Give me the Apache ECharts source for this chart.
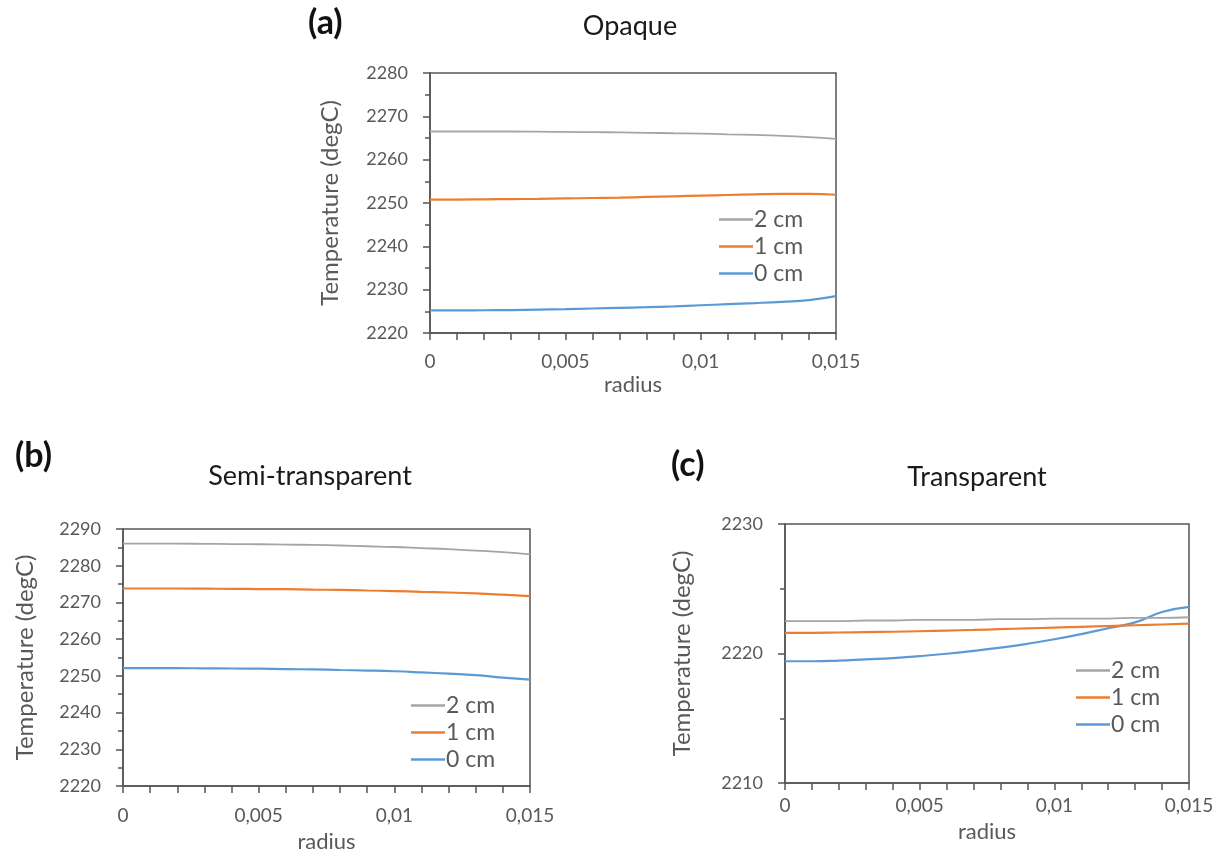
<!DOCTYPE html>
<html>
<head>
<meta charset="utf-8">
<script src="https://cdn.jsdelivr.net/npm/echarts@6/dist/echarts.min.js"></script>
<style>
html,body{margin:0;padding:0;background:#fff;}
#chart{width:1225px;height:854px;}
</style>
</head>
<body>
<div id="chart"></div>
<script>
// radius (x) values
var radius = [0,0.001,0.002,0.003,0.004,0.005,0.006,0.007,0.008,0.009,0.010,0.011,0.012,0.013,0.014,0.015];
var seriesNames = ['2 cm','1 cm','0 cm'];
var panelTitles = ['Opaque','Semi-transparent','Transparent'];
var panelLabels = ['(a)','(b)','(c)'];

// (a) Opaque
var opaque2 = [2266.5,2266.5,2266.5,2266.5,2266.45,2266.4,2266.35,2266.3,2266.2,2266.1,2266.0,2265.85,2265.7,2265.5,2265.2,2264.8];
var opaque1 = [2250.8,2250.8,2250.85,2250.9,2250.95,2251.05,2251.15,2251.25,2251.4,2251.55,2251.7,2251.85,2252.0,2252.1,2252.1,2251.9];
var opaque0 = [2225.2,2225.2,2225.25,2225.3,2225.4,2225.5,2225.65,2225.8,2225.95,2226.15,2226.4,2226.65,2226.9,2227.2,2227.6,2228.5];

// (b) Semi-transparent
var semi2 = [2286.0,2286.0,2286.0,2285.95,2285.9,2285.85,2285.75,2285.65,2285.5,2285.3,2285.1,2284.8,2284.5,2284.1,2283.7,2283.1];
var semi1 = [2273.8,2273.8,2273.8,2273.75,2273.7,2273.65,2273.6,2273.5,2273.4,2273.25,2273.1,2272.9,2272.7,2272.45,2272.1,2271.7];
var semi0 = [2252.1,2252.1,2252.1,2252.05,2252.0,2251.95,2251.85,2251.75,2251.6,2251.45,2251.25,2250.95,2250.6,2250.2,2249.5,2249.0];

// (c) Transparent
var trans2 = [2222.5,2222.5,2222.5,2222.55,2222.55,2222.6,2222.6,2222.6,2222.65,2222.65,2222.7,2222.7,2222.7,2222.75,2222.75,2222.8];
var trans1 = [2221.6,2221.6,2221.62,2221.65,2221.68,2221.72,2221.77,2221.82,2221.88,2221.94,2222.0,2222.06,2222.12,2222.18,2222.24,2222.3];
var trans0 = [2219.4,2219.4,2219.45,2219.55,2219.65,2219.8,2219.98,2220.2,2220.45,2220.75,2221.1,2221.5,2221.95,2222.4,2223.2,2223.6];

// y axis ranges
var yMin = [2220, 2220, 2210];
var yMax = [2280, 2290, 2230];
var yInterval = [10, 10, 10];

var panelData = [[opaque2,opaque1,opaque0],[semi2,semi1,semi0],[trans2,trans1,trans0]];
var colors = ['#a5a5a5','#ed7d31','#5b9bd5'];
var widths = [1.8, 2.2, 2.2];

var FONT = 'Lato';
var grids = [
  {left:430, top:73, width:406, height:260},
  {left:123, top:529, width:407, height:257},
  {left:785, top:524, width:404, height:259}
];
var yNameGap = [88, 86, 91];
var xNameGap = [41, 45, 38];
var xLabelMargin = [19, 20, 13];
var legendPos = [
  {left:714, top:203},
  {left:406, top:689},
  {left:1071, top:654}
];
var titlePos = [
  {x:625, y:8}, {x:305, y:458}, {x:972, y:459}
];
var labelPos = [
  {x:303, y:1}, {x:10, y:434}, {x:666, y:443}
];

function fmtX(v){
  if (Math.abs(v) < 1e-12) return '0';
  return String(+v.toFixed(3)).replace('.', ',');
}
function fmtY(v){ return String(Math.round(v)); }

var option = {
  backgroundColor:'#ffffff',
  animation:false,
  title:[],
  legend:[],
  grid:[],
  xAxis:[],
  yAxis:[],
  series:[]
};

for (var p=0;p<3;p++){
  option.title.push({
    text: panelTitles[p], left: titlePos[p].x, top: titlePos[p].y,
    textAlign:'center',
    textStyle:{fontFamily:FONT, fontSize:27, fontWeight:'normal', color:'#1a1a1a'}
  });
  option.title.push({
    text: panelLabels[p], left: labelPos[p].x, top: labelPos[p].y,
    textStyle:{fontFamily:FONT, fontSize:34, fontWeight:'bold', color:'#111'}
  });
  option.grid.push({
    left:grids[p].left, top:grids[p].top, width:grids[p].width, height:grids[p].height,
    show:true, borderColor:'#555', borderWidth:1.5, backgroundColor:'transparent',
    containLabel:false
  });
  option.xAxis.push({
    type:'value', gridIndex:p, min:0, max:0.015, interval:0.005,
    name:'radius', nameLocation:'middle', nameGap:xNameGap[p],
    nameTextStyle:{fontFamily:FONT, fontSize:22, color:'#595959'},
    axisLine:{show:true, onZero:false, lineStyle:{color:'#555', width:1.5}},
    axisTick:{show:true, inside:false, length:7, lineStyle:{color:'#555', width:1.5}},
    minorTick:{show:true, splitNumber:5, length:7, lineStyle:{color:'#555', width:1.5}},
    splitLine:{show:false},
    axisLabel:{fontFamily:FONT, fontSize:19, color:'#595959', margin:xLabelMargin[p], formatter:fmtX,
      showMinLabel:true, showMaxLabel:true}
  });
  option.yAxis.push({
    type:'value', gridIndex:p, min:yMin[p], max:yMax[p], interval:yInterval[p],
    name:'Temperature (degC)', nameLocation:'middle', nameGap:yNameGap[p], nameRotate:90,
    nameTextStyle:{fontFamily:FONT, fontSize:24, color:'#595959'},
    axisLine:{show:true, onZero:false, lineStyle:{color:'#555', width:1.5}},
    axisTick:{show:true, inside:false, length:7, lineStyle:{color:'#555', width:1.5}},
    minorTick:{show:true, splitNumber:2, length:5, lineStyle:{color:'#555', width:1.5}},
    splitLine:{show:false},
    axisLabel:{fontFamily:FONT, fontSize:18, color:'#595959', margin:22, formatter:fmtY}
  });
  option.legend.push({
    data: seriesNames.map(function(n){ return {name:n, icon:'rect'}; }),
    orient:'vertical', left:legendPos[p].left, top:legendPos[p].top,
    itemWidth:34, itemHeight:2.5, itemGap:4,
    selectedMode:false,
    textStyle:{fontFamily:FONT, fontSize:23, color:'#595959', padding:[0,0,0,-4]}
  });
  for (var s=0;s<3;s++){
    var vals = panelData[p][s];
    var d = [];
    for (var i=0;i<radius.length;i++) d.push([radius[i], vals[i]]);
    option.series.push({
      name: seriesNames[s], type:'line', xAxisIndex:p, yAxisIndex:p,
      data:d, smooth:true, symbol:'none', showSymbol:false,
      lineStyle:{color:colors[s], width:widths[s]},
      itemStyle:{color:colors[s]},
      z: 3 - s
    });
  }
}

var chart = echarts.init(document.getElementById('chart'), null, {renderer:'canvas'});
chart.setOption(option);
</script>
</body>
</html>
